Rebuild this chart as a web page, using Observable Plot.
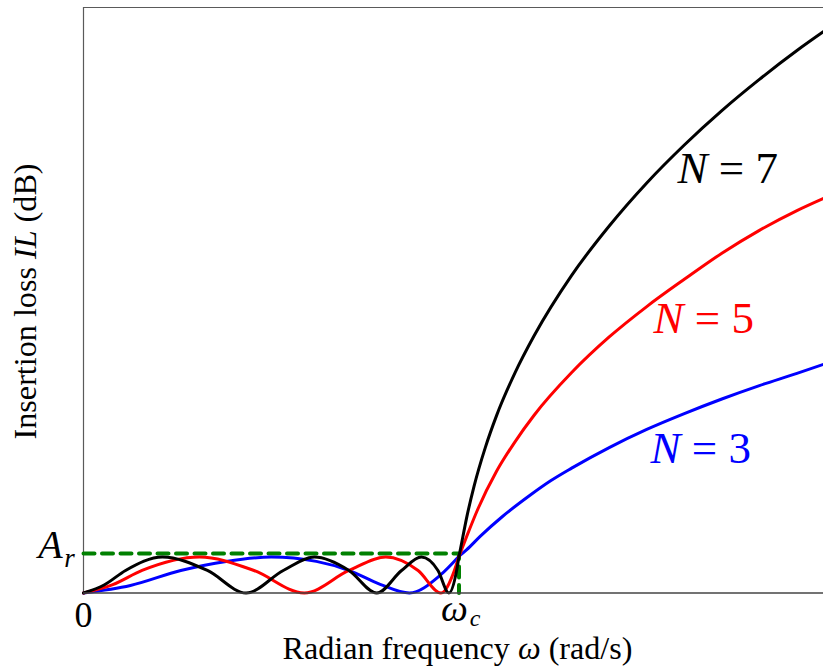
<!DOCTYPE html>
<html>
<head>
<meta charset="utf-8">
<script src="https://cdn.jsdelivr.net/npm/d3@7"></script>
<script src="https://cdn.jsdelivr.net/npm/@observablehq/plot@0.6"></script>
<style>
  html, body { margin: 0; padding: 0; background: #fff; }
  svg text, svg tspan { font-family: "Liberation Serif", "Times New Roman", serif; }
</style>
</head>
<body>
<div id="chart"></div>
<script>
// ---- data (y in units of the ripple level A_r) ----
const seriesLabels = ["N = 3", "N = 5", "N = 7"];

const omega3 = [0, 0.125, 0.259, 0.38, 0.5, 0.62, 0.707, 0.79, 0.868, 0.95, 1,
                1.02, 1.057, 1.115, 1.19, 1.244, 1.3, 1.4, 1.5, 1.6, 1.7, 1.8, 1.9, 1.971];
const loss3  = [0, 0.19, 0.57, 0.80, 0.91, 0.80, 0.57, 0.22, 0, 0.45, 0.93,
                1.09, 1.44, 1.93, 2.48, 2.84, 3.16, 3.68, 4.14, 4.54, 4.91, 5.25, 5.56, 5.79];

const omega5 = [0, 0.078, 0.156, 0.309, 0.454, 0.588, 0.707, 0.805, 0.891, 0.952, 0.9877, 1,
                1.02, 1.05, 1.1, 1.15, 1.2, 1.3, 1.4, 1.5, 1.6, 1.7, 1.8, 1.9, 1.971];
const loss5  = [0, 0.21, 0.57, 0.91, 0.57, 0, 0.57, 0.91, 0.57, 0, 0.57, 0.93,
                1.42, 2.12, 3.08, 3.84, 4.50, 5.58, 6.48, 7.25, 7.94, 8.60, 9.18, 9.68, 9.99];

const omega7 = [0, 0.056, 0.112, 0.21, 0.33, 0.433, 0.532, 0.615, 0.707, 0.781, 0.847, 0.9, 0.944, 0.973, 0.9937, 1,
                1.01, 1.02, 1.04, 1.07, 1.1, 1.15, 1.2, 1.3, 1.4, 1.5, 1.6, 1.7, 1.8, 1.9, 1.971];
const loss7  = [0, 0.21, 0.57, 0.91, 0.57, 0, 0.57, 0.91, 0.57, 0, 0.57, 0.91, 0.57, 0, 0.57, 0.93,
                1.41, 1.89, 2.70, 3.68, 4.49, 5.59, 6.51, 8.04, 9.29, 10.38, 11.34, 12.21, 13.0, 13.73, 14.21];

const rippleLevel = 1;   // A_r
const cutoff = 1;        // omega_c
const xTickValues = [0, cutoff];
const xTickLabels = ["0", "ω"];
const xLabel = "Radian frequency ω (rad/s)";
const yLabel = "Insertion loss IL (dB)";

const toRows = (w, il) => w.map((x, i) => ({x, y: il[i]}));
const rows3 = toRows(omega3, loss3);
const rows5 = toRows(omega5, loss5);
const rows7 = toRows(omega7, loss7);
const pass = rows => rows.filter(d => d.x <= cutoff);
const stop = rows => rows.filter(d => d.x >= cutoff);
const boxRows = [{x: 0, y: rippleLevel}, {x: cutoff, y: rippleLevel}, {x: cutoff, y: 0}];

const font = "Liberation Serif";
const frameColor = "#5a5a5a";

function curveMarks(rows, color) {
  return [
    Plot.line(pass(rows), {x: "x", y: "y", stroke: color, strokeWidth: 3, curve: "monotone-x"}),
    Plot.line(stop(rows), {x: "x", y: "y", stroke: color, strokeWidth: 3, curve: "monotone-x"})
  ];
}

const T = (data, opts) => Plot.text(data, {text: d => d, fontFamily: font, fill: "#000", lineAnchor: "bottom", ...opts});

const chart = Plot.plot({
  width: 823,
  height: 666,
  marginLeft: 83,
  marginRight: 0,
  marginTop: 7,
  marginBottom: 73.5,
  x: {domain: [0, 1.9707], axis: null},
  y: {domain: [0, 14.82], axis: null},
  style: {fontFamily: font, background: "#fff", color: "#000", overflow: "visible"},
  marks: [
    Plot.ruleX([0], {stroke: frameColor, strokeWidth: 1.2}),
    Plot.ruleY([14.82], {stroke: frameColor, strokeWidth: 1.2}),
    Plot.line(boxRows, {x: "x", y: "y", stroke: "#008000", strokeWidth: 4, strokeDasharray: "11,7.5"}),
    ...curveMarks(rows3, "#0000ff"),
    ...curveMarks(rows5, "#ff0000"),
    ...curveMarks(rows7, "#000000"),
    Plot.ruleY([0], {stroke: "#444", strokeWidth: 1.4}),
    // x tick labels
    T([xTickLabels[0]], {x: xTickValues[0], y: 0, dy: 33.5, fontSize: 36}),
    T([xTickLabels[1]], {x: xTickValues[1], y: 0, dx: -4.5, dy: 27.5, fontSize: 38, fontStyle: "italic"}),
    T(["c"], {x: xTickValues[1], y: 0, dx: 16, dy: 33, fontSize: 24, fontStyle: "italic"}),
    // A_r label
    T(["A"], {x: 0, y: rippleLevel, dx: -33, dy: 5, fontSize: 40, fontStyle: "italic"}),
    T(["r"], {x: 0, y: rippleLevel, dx: -14, dy: 14, fontSize: 27, fontStyle: "italic"}),
    // axis titles
    T([xLabel], {x: cutoff, y: 0, dx: -1.5, dy: 65.5, fontSize: 31}),
    T([yLabel], {x: 0, y: 7.38, dx: -48, rotate: -90, fontSize: 32}),
    // series labels
    T([seriesLabels[2]], {x: 1.582, y: 10.39, textAnchor: "start", fontSize: 45, fill: "#000000"}),
    T([seriesLabels[1]], {x: 1.518, y: 6.57, textAnchor: "start", fontSize: 45, fill: "#ff0000"}),
    T([seriesLabels[0]], {x: 1.51, y: 3.28, textAnchor: "start", fontSize: 45, fill: "#0000ff"})
  ]
});

// italic parts inside mixed labels
d3.select(chart).selectAll("text").each(function() {
  const t = this.textContent;
  const sel = d3.select(this);
  if (t.startsWith("N = ")) {
    sel.html(`<tspan font-style="italic">N</tspan> = ${t.slice(4)}`);
  } else if (t === xLabel) {
    sel.html(`Radian frequency <tspan font-style="italic">ω</tspan> (rad/s)`)
       .attr("textLength", 350).attr("lengthAdjust", "spacingAndGlyphs");
  } else if (t === yLabel) {
    sel.html(`Insertion loss <tspan font-style="italic">IL</tspan> (dB)`)
       .attr("textLength", 276).attr("lengthAdjust", "spacingAndGlyphs");
  }
});

document.getElementById("chart").appendChild(chart);
</script>
</body>
</html>
